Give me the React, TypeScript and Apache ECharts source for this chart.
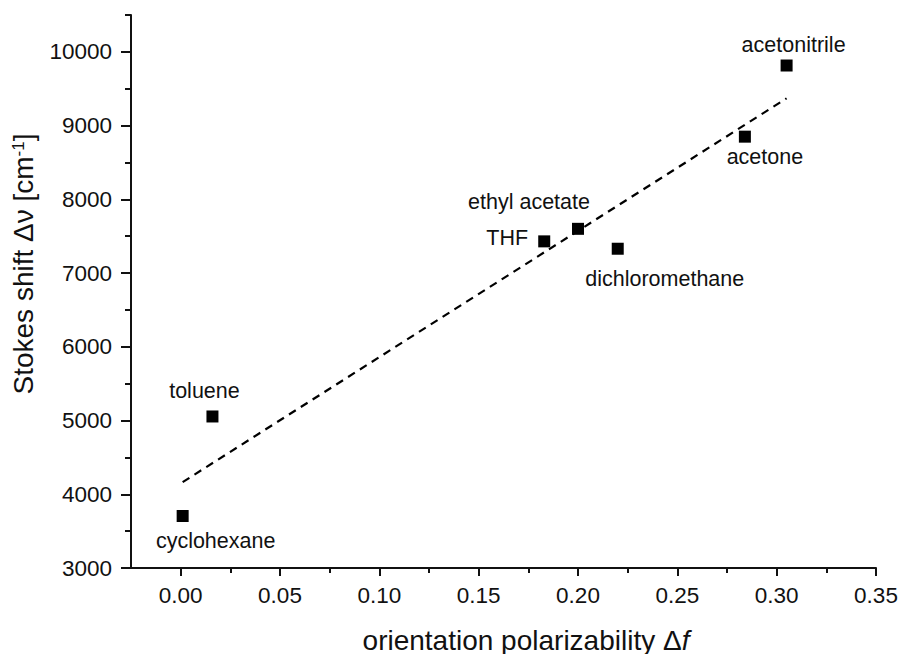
import React, { useEffect, useRef } from "react";
import * as echarts from "echarts";

const xTicks = [0, 0.05, 0.1, 0.15, 0.2, 0.25, 0.3, 0.35];
const xMinorTicks = [0.025, 0.075, 0.125, 0.175, 0.225, 0.275, 0.325];
const yTicks = [3000, 4000, 5000, 6000, 7000, 8000, 9000, 10000];
const yMinorTicks = [3500, 4500, 5500, 6500, 7500, 8500, 9500, 10500];

const solvents = ["cyclohexane", "toluene", "THF", "ethyl acetate", "dichloromethane", "acetone", "acetonitrile"];
const orientationPolarizability = [0.001, 0.016, 0.183, 0.2, 0.22, 0.284, 0.305];
const stokesShift = [3705, 5055, 7430, 7600, 7330, 8850, 9815];

const fitX = [0.001, 0.305];
const fitY = [4165, 9370];

const labelOffsets: number[][] = [
  [33, 25],
  [-8, -25],
  [-37, -3],
  [-49, -27],
  [47, 30],
  [20, 20],
  [7, -21],
];

const FONT = "'Liberation Sans', Arial, sans-serif";
const INK = "#111111";

export default function App() {
  const ref = useRef<HTMLDivElement>(null);
  useEffect(() => {
    if (!ref.current) return;
    const chart = echarts.init(ref.current, undefined, { renderer: "svg" });
    const xMin = -0.025;
    const xMax = 0.35;
    const yMin = 3000;
    const yMax = 10500;
    const axisLine = { show: true, onZero: false, lineStyle: { color: INK, width: 2 } };
    chart.setOption({
      animation: false,
      backgroundColor: "#ffffff",
      grid: { left: 131, right: 25, top: 15, bottom: 86, containLabel: false },
      xAxis: [
        {
          type: "value",
          min: xMin,
          max: xMax,
          position: "bottom",
          axisLine,
          splitLine: { show: false },
          axisTick: { show: true, length: 8, lineStyle: { color: INK, width: 2 }, customValues: xTicks },
          axisLabel: {
            show: true,
            customValues: xTicks,
            formatter: (v: number) => v.toFixed(2),
            fontSize: 22.5,
            fontFamily: FONT,
            color: INK,
            margin: 16,
          },
        },
        {
          type: "value",
          min: xMin,
          max: xMax,
          position: "bottom",
          axisLine: { show: false, onZero: false },
          splitLine: { show: false },
          axisTick: { show: true, length: 5, lineStyle: { color: INK, width: 2 }, customValues: xMinorTicks },
          axisLabel: { show: false },
        },
      ],
      yAxis: [
        {
          type: "value",
          min: yMin,
          max: yMax,
          position: "left",
          axisLine,
          splitLine: { show: false },
          axisTick: { show: true, length: 10, lineStyle: { color: INK, width: 2 }, customValues: yTicks },
          axisLabel: {
            show: true,
            customValues: yTicks,
            formatter: (v: number) => String(v),
            fontSize: 22.5,
            fontFamily: FONT,
            color: INK,
            margin: 19,
          },
        },
        {
          type: "value",
          min: yMin,
          max: yMax,
          position: "left",
          axisLine: { show: false, onZero: false },
          splitLine: { show: false },
          axisTick: { show: true, length: 6, lineStyle: { color: INK, width: 2 }, customValues: yMinorTicks },
          axisLabel: { show: false },
        },
      ],
      series: [
        {
          type: "line",
          xAxisIndex: 0,
          yAxisIndex: 0,
          data: fitX.map((x, i) => [x, fitY[i]]),
          symbol: "none",
          lineStyle: { color: "#000", width: 2.2, type: [8, 6] },
          silent: true,
          z: 1,
        },
        {
          type: "scatter",
          xAxisIndex: 0,
          yAxisIndex: 0,
          symbol: "rect",
          symbolSize: 12,
          itemStyle: { color: "#000", opacity: 1 },
          z: 2,
          data: solvents.map((name, i) => ({
            name,
            value: [orientationPolarizability[i], stokesShift[i]],
            label: {
              show: true,
              position: "inside",
              offset: labelOffsets[i],
              formatter: name,
              fontSize: 21.5,
              fontFamily: FONT,
              color: INK,
            },
          })),
        },
      ],
      graphic: [
        {
          type: "text",
          x: 526,
          y: 640,
          style: {
            text: "{n|orientation polarizability Δ}{i|f}",
            align: "center",
            verticalAlign: "middle",
            rich: {
              n: { fontSize: 28, fontFamily: FONT, fill: INK },
              i: { fontSize: 28, fontFamily: FONT, fontStyle: "italic", fill: INK },
            },
          },
        },
        {
          type: "text",
          x: 23.5,
          y: 264,
          rotation: Math.PI / 2,
          style: {
            text: "{n|Stokes shift Δν [cm}{s|-1}{n|]}",
            align: "center",
            verticalAlign: "middle",
            rich: {
              n: { fontSize: 28, fontFamily: FONT, fill: INK },
              s: { fontSize: 17, fontFamily: FONT, fill: INK, verticalAlign: "top" },
            },
          },
        },
      ],
    });
    return () => chart.dispose();
  }, []);
  return <div ref={ref} style={{ position: "fixed", left: 0, top: 0, width: 901, height: 654 }} />;
}
